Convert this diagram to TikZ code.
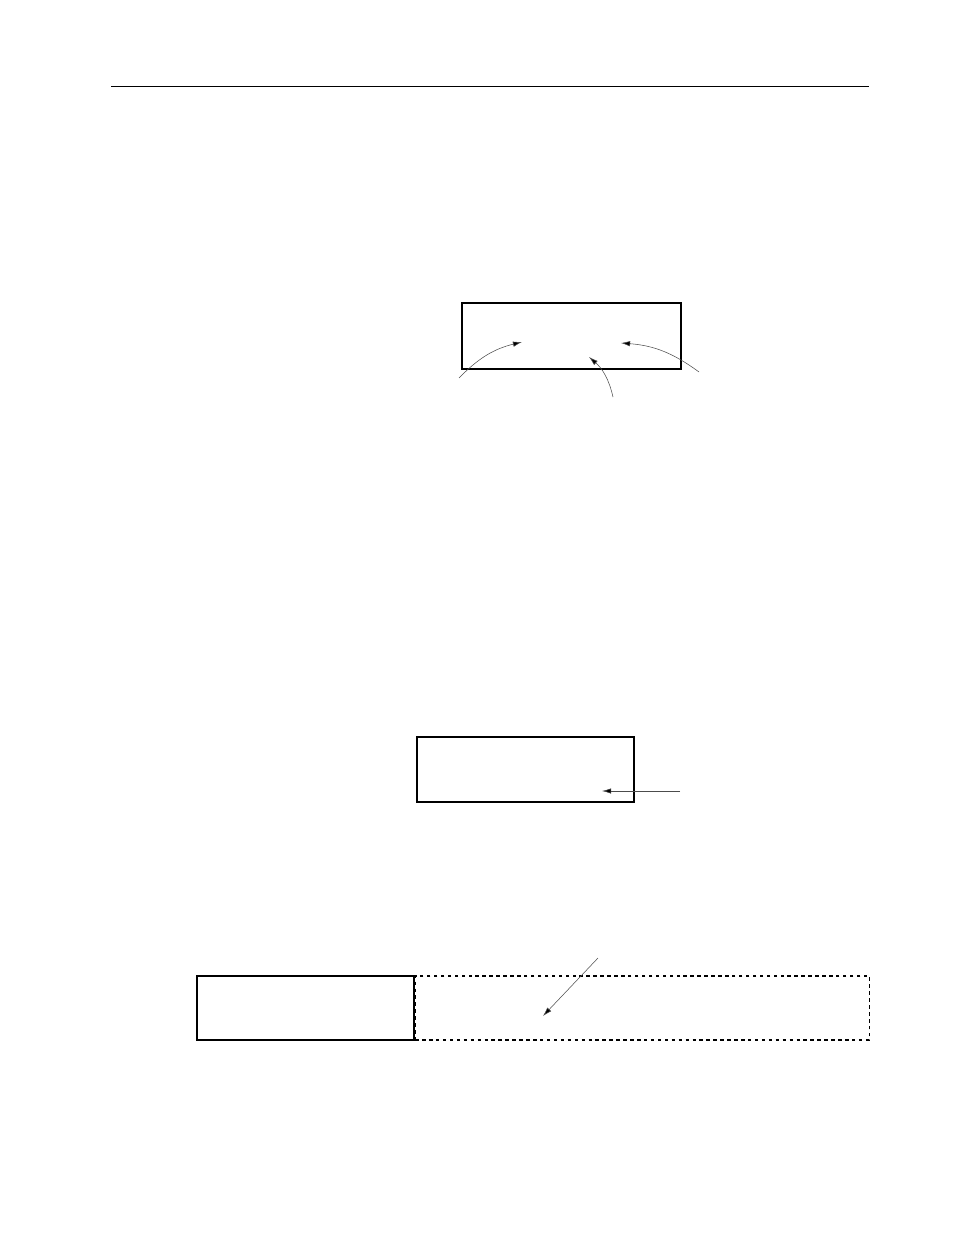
\documentclass[tikz,border=0pt]{standalone}
\usetikzlibrary{arrows.meta, positioning}

\begin{document}
\begin{tikzpicture}[
    x=0.75pt, y=-0.75pt,
    box/.style={rectangle, draw, line width=0.8pt, inner sep=0pt, minimum width=162.75pt, minimum height=48.75pt},
    ghost/.style={box, line width=1pt, dashed, dash pattern=on 2.6pt off 2.6pt},
    pointer/.style={-{Latex[length=2.4mm, width=1.4mm, fill=black]}, line width=0.4pt, draw=black!70}
]
\useasboundingbox (0,0) rectangle (954,1235);

% header rule
\coordinate (ruleL) at (111,86);
\coordinate (ruleR) at (869,86);
\draw[line width=0.6pt] (ruleL) -- (ruleR);

% first box with three pointers
\node[box, minimum width=164.25pt, minimum height=49.5pt] (upper) at (571.5,336) {};
\coordinate (leftfoot) at (459,378);
\coordinate (midfoot) at (613,397);
\coordinate (rightfoot) at (699,372);
\coordinate (lefttip) at (522,342);
\coordinate (midtip) at (589,357);
\coordinate (righttip) at (621,343);
\draw[pointer] (leftfoot) to[bend left=16] (lefttip);
\draw[pointer] (midfoot) to[bend right=18] (midtip);
\draw[pointer] (rightfoot) to[bend right=16] (righttip);

% second box
\node[box] (middle) at (525.5,769.5) {};
\coordinate (sidefoot) at (680,791);
\coordinate (sidetip) at (602,791);
\draw[pointer] (sidefoot) -- (sidetip);

% bottom pair
\node[box, minimum height=48pt] (solid) at (305.5,1008) {};
\node[ghost, minimum width=340.5pt, minimum height=48pt, right=0pt of solid] (spare) {};
\coordinate (slantfoot) at (598,958);
\coordinate (slanttip) at (543,1016);
\draw[pointer] (slantfoot) -- (slanttip);

\end{tikzpicture}
\end{document}
